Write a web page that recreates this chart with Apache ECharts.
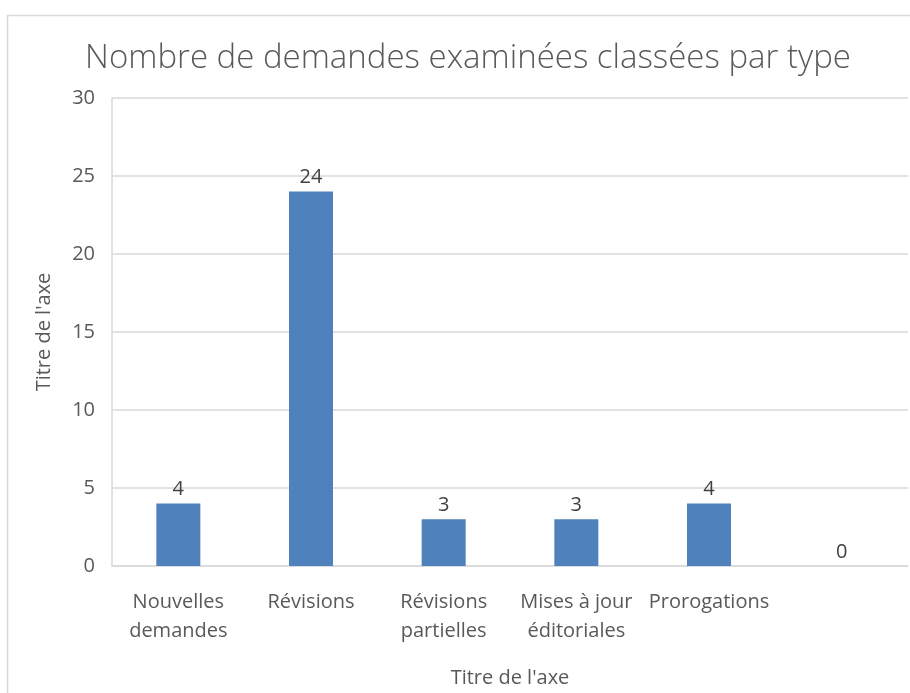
<!DOCTYPE html>
<html><head><meta charset="utf-8">
<script src="https://cdn.jsdelivr.net/npm/echarts@6/dist/echarts.min.js"></script>
<style>html,body{margin:0;padding:0;background:#fff}#c{width:910px;height:693px}</style>
</head><body><div id="c"></div>
<script>
const categories = ['Nouvelles\ndemandes', 'Révisions', 'Révisions\npartielles', 'Mises à jour\néditoriales', 'Prorogations', ''];
const values = [4, 24, 3, 3, 4, 0];
const yTicks = {min: 0, max: 30, interval: 5};
const titleText = 'Nombre de demandes examinées classées par type';
const xName = "Titre de l'axe";
const yName = "Titre de l'axe";

const chart = echarts.init(document.getElementById('c'), null, {renderer: 'canvas'});
const font = '"Open Sans", "Noto Sans", sans-serif';
chart.setOption({
  animation: false,
  backgroundColor: '#fff',
  graphic: [{
    type: 'rect', left: 5, top: 13, shape: {width: 960, height: 720},
    style: {fill: 'none', stroke: '#d9d9d9', lineWidth: 1.5}, silent: true, z: -1
  }],
  title: {
    text: titleText, left: 463, top: 37, textAlign: 'center',
    textStyle: {fontFamily: font, fontWeight: 300, fontSize: 33, color: '#595959'}
  },
  grid: {left: 112, top: 98, width: 796, height: 468, containLabel: false, outerBoundsMode: 'none'},
  xAxis: {
    type: 'category', data: categories,
    axisLine: {lineStyle: {color: '#d9d9d9', width: 1.5}},
    axisTick: {show: false},
    axisLabel: {fontFamily: font, fontSize: 20, color: '#595959', margin: 22, lineHeight: 29, interval: 0},
    name: xName, nameLocation: 'middle', nameGap: 102,
    nameTextStyle: {fontFamily: font, fontSize: 20, color: '#595959'}
  },
  yAxis: {
    type: 'value', min: yTicks.min, max: yTicks.max, interval: yTicks.interval,
    axisLine: {show: true, lineStyle: {color: '#d9d9d9', width: 1.5}},
    axisTick: {show: false},
    splitLine: {lineStyle: {color: '#d9d9d9', width: 1.5}},
    axisLabel: {fontFamily: font, fontSize: 20, color: '#595959', margin: 17},
    name: yName, nameLocation: 'middle', nameGap: 58, nameRotate: 90,
    nameTextStyle: {fontFamily: font, fontSize: 20, color: '#595959'}
  },
  series: [{
    type: 'bar', data: values, barWidth: 44,
    itemStyle: {color: '#4f81bd'},
    label: {show: true, position: 'top', distance: 4, fontFamily: font, fontSize: 20, color: '#404040'}
  }]
});
</script></body></html>
